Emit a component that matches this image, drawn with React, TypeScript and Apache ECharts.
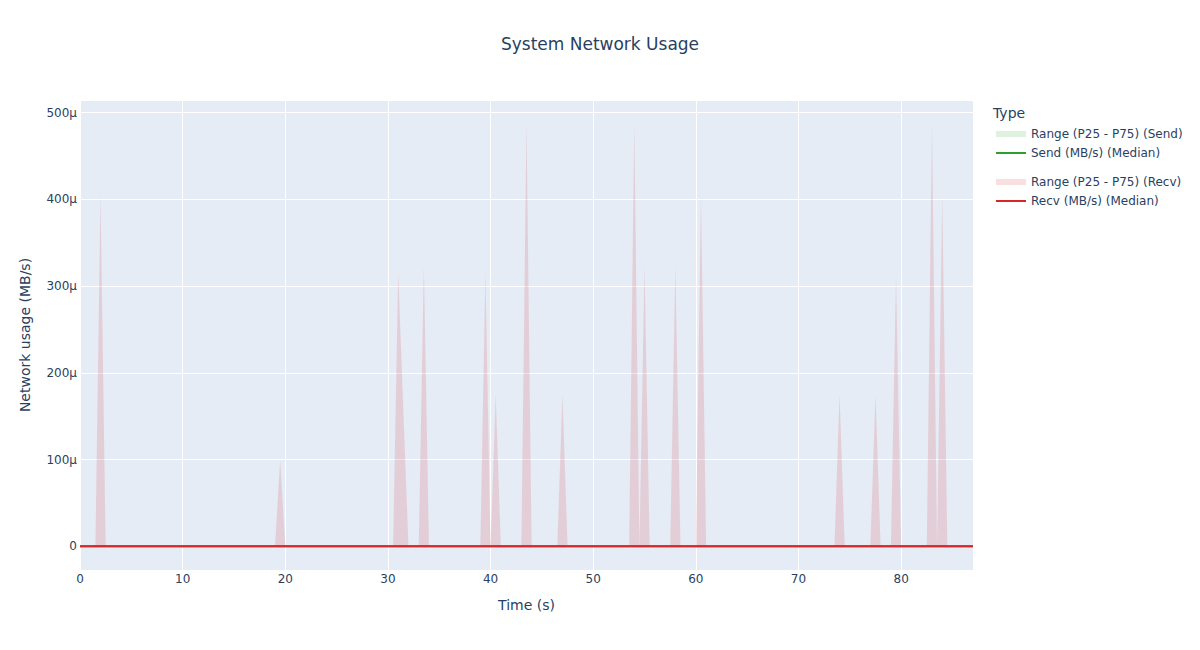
import { useEffect, useRef } from "react";
import * as echarts from "echarts";

// Sample times (s)
const timeSec = [
  0, 1.5, 2, 2.5, 19, 19.5, 20, 30.5, 31, 32, 33, 33.5, 34, 39, 39.5, 40, 40.5, 41,
  43, 43.5, 44, 46.5, 47, 47.5, 53.5, 54, 54.5, 55, 55.5, 57.5, 58, 58.5, 60, 60.5, 61,
  73.5, 74, 74.5, 77, 77.5, 78, 79, 79.5, 80, 82.5, 83, 83.5, 84, 84.5, 87,
];

// Recv P75 (MB/s)
const recvP75 = [
  0, 0, 0.000405, 0, 0, 0.0001, 0, 0, 0.000315, 0, 0, 0.000323, 0, 0, 0.000315, 0, 0.000175, 0,
  0, 0.000488, 0, 0, 0.000175, 0, 0, 0.000488, 0, 0.000323, 0, 0, 0.000323, 0, 0, 0.000405, 0,
  0, 0.000175, 0, 0, 0.000175, 0, 0, 0.000311, 0, 0, 0.000488, 0, 0.000405, 0, 0,
];
// Recv P25 (MB/s)
const recvP25 = [
  0, 0, 0, 0, 0, 0, 0, 0, 0, 0, 0, 0, 0, 0, 0, 0, 0, 0,
  0, 0, 0, 0, 0, 0, 0, 0, 0, 0, 0, 0, 0, 0, 0, 0, 0,
  0, 0, 0, 0, 0, 0, 0, 0, 0, 0, 0, 0, 0, 0, 0,
];
// Recv median (MB/s)
const recvMedian = [
  0, 0, 0, 0, 0, 0, 0, 0, 0, 0, 0, 0, 0, 0, 0, 0, 0, 0,
  0, 0, 0, 0, 0, 0, 0, 0, 0, 0, 0, 0, 0, 0, 0, 0, 0,
  0, 0, 0, 0, 0, 0, 0, 0, 0, 0, 0, 0, 0, 0, 0,
];
// Send P75 (MB/s)
const sendP75 = [
  0, 0, 0, 0, 0, 0, 0, 0, 0, 0, 0, 0, 0, 0, 0, 0, 0, 0,
  0, 0, 0, 0, 0, 0, 0, 0, 0, 0, 0, 0, 0, 0, 0, 0, 0,
  0, 0, 0, 0, 0, 0, 0, 0, 0, 0, 0, 0, 0, 0, 0,
];
// Send P25 (MB/s)
const sendP25 = [
  0, 0, 0, 0, 0, 0, 0, 0, 0, 0, 0, 0, 0, 0, 0, 0, 0, 0,
  0, 0, 0, 0, 0, 0, 0, 0, 0, 0, 0, 0, 0, 0, 0, 0, 0,
  0, 0, 0, 0, 0, 0, 0, 0, 0, 0, 0, 0, 0, 0, 0,
];
// Send median (MB/s)
const sendMedian = [
  0, 0, 0, 0, 0, 0, 0, 0, 0, 0, 0, 0, 0, 0, 0, 0, 0, 0,
  0, 0, 0, 0, 0, 0, 0, 0, 0, 0, 0, 0, 0, 0, 0, 0, 0,
  0, 0, 0, 0, 0, 0, 0, 0, 0, 0, 0, 0, 0, 0, 0,
];

const legendNames = [
  "Range (P25 - P75) (Send)",
  "Send (MB/s) (Median)",
  "Range (P25 - P75) (Recv)",
  "Recv (MB/s) (Median)",
];

const FONT = "DejaVu Sans";
const INK = "#2a3f5f";
const GREEN = "#2ca02c";
const RED = "#d62728";
const GREEN_BAND = "rgba(44,160,44,0.15)";
const RED_BAND = "rgba(214,39,40,0.15)";

const pairs = (ys: number[]) => timeSec.map((t, i) => [t, ys[i]]);
const triples = (lo: number[], hi: number[]) => timeSec.map((t, i) => [t, lo[i], hi[i]]);

const BAND_ICON = "path://M0,0L30,0L30,6L0,6Z";
const LINE_ICON = "path://M0,0L30,0L30,2L0,2Z";

// Band between P25 and P75 drawn as one polygon through the axes' scales
const bandSeries = (name: string, lo: number[], hi: number[], color: string) => ({
  name,
  type: "custom",
  data: triples(lo, hi),
  encode: { x: 0, y: [1, 2] },
  itemStyle: { color },
  clip: true,
  renderItem: (params: any, api: any) => {
    if (params.dataIndexInside !== 0) return null;
    const upper: number[][] = [];
    const lower: number[][] = [];
    for (let i = 0; i < timeSec.length; i++) {
      upper.push(api.coord([timeSec[i], hi[i]]));
      lower.push(api.coord([timeSec[i], lo[i]]));
    }
    const points = upper.concat(lower.reverse());
    return {
      type: "polygon",
      shape: { points },
      style: { fill: color, stroke: "none" },
      silent: true,
    };
  },
});

export default function App() {
  const ref = useRef<HTMLDivElement>(null);
  useEffect(() => {
    document.body.style.margin = "0";
    const chart = echarts.init(ref.current!, undefined, { renderer: "svg" });
    const legendBase = {
      orient: "vertical" as const,
      left: 996,
      padding: 0,
      itemWidth: 30,
      itemHeight: 14,
      itemGap: 7,
      selectedMode: false,
      textStyle: { fontFamily: FONT, fontSize: 12, color: INK },
    };
    chart.setOption({
      animation: false,
      backgroundColor: "#ffffff",
      textStyle: { fontFamily: FONT },
      title: {
        text: "System Network Usage",
        left: "center",
        top: 30,
        textStyle: { fontFamily: FONT, fontSize: 17, fontWeight: "normal", color: INK },
      },
      graphic: [
        {
          type: "text",
          left: 993,
          top: 106,
          style: { text: "Type", font: `14px "${FONT}"`, fill: INK },
        },
      ],
      legend: [
        {
          ...legendBase,
          top: 128,
          data: [
            { name: legendNames[0], icon: BAND_ICON, itemStyle: { color: GREEN_BAND } },
            { name: legendNames[1], icon: LINE_ICON, itemStyle: { color: GREEN } },
          ],
        },
        {
          ...legendBase,
          top: 176,
          data: [
            { name: legendNames[2], icon: BAND_ICON, itemStyle: { color: RED_BAND } },
            { name: legendNames[3], icon: LINE_ICON, itemStyle: { color: RED } },
          ],
        },
      ],
      grid: {
        left: 80,
        right: 227,
        top: 100,
        bottom: 80,
        show: true,
        backgroundColor: "#E5ECF6",
        borderWidth: 0,
        containLabel: false,
      },
      xAxis: {
        type: "value",
        min: 0,
        max: 87,
        interval: 10,
        name: "Time (s)",
        nameLocation: "middle",
        nameGap: 28,
        nameTextStyle: { fontFamily: FONT, fontSize: 14, color: INK },
        axisLine: { show: false },
        axisTick: { show: false },
        axisLabel: { fontFamily: FONT, fontSize: 12, color: INK, margin: 3, showMaxLabel: false },
        splitLine: { show: true, lineStyle: { color: "#ffffff", width: 1 } },
      },
      yAxis: {
        type: "value",
        min: -0.0000273,
        max: 0.0005145,
        minInterval: 0.0001,
        maxInterval: 0.0001,
        name: "Network usage (MB/s)",
        nameLocation: "middle",
        nameRotate: 90,
        nameGap: 48,
        nameTextStyle: { fontFamily: FONT, fontSize: 14, color: INK },
        axisLine: { show: false },
        axisTick: { show: false },
        axisLabel: {
          fontFamily: FONT,
          fontSize: 12,
          color: INK,
          margin: 3,
          showMinLabel: false,
          showMaxLabel: false,
          formatter: (v: number) => (Math.abs(v) < 1e-12 ? "0" : `${Math.round(v * 1e6)}µ`),
        },
        splitLine: { show: true, lineStyle: { color: "#ffffff", width: 1 } },
      },
      series: [
        bandSeries(legendNames[0], sendP25, sendP75, GREEN_BAND),
        {
          name: legendNames[1],
          type: "line",
          symbol: "none",
          itemStyle: { color: GREEN },
          lineStyle: { color: GREEN, width: 2 },
          data: pairs(sendMedian),
        },
        bandSeries(legendNames[2], recvP25, recvP75, RED_BAND),
        {
          name: legendNames[3],
          type: "line",
          symbol: "none",
          itemStyle: { color: RED },
          lineStyle: { color: RED, width: 2 },
          data: pairs(recvMedian),
        },
      ],
    });
    return () => chart.dispose();
  }, []);
  return (
    <div
      ref={ref}
      style={{ position: "fixed", left: 0, top: 0, width: 1200, height: 650 }}
    />
  );
}
